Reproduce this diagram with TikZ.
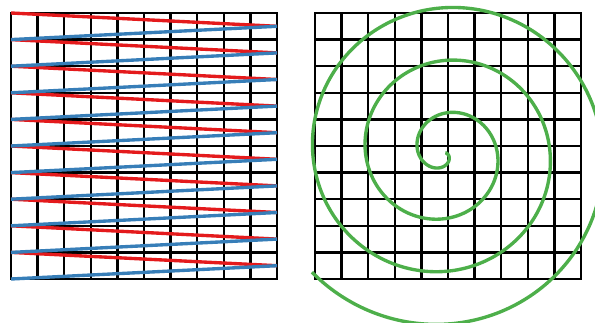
\documentclass[tikz,border=0pt]{standalone}
\definecolor{zzred}{HTML}{E41A1C}
\definecolor{zzblue}{HTML}{377EB8}
\definecolor{spgreen}{HTML}{4DAF4A}
\begin{document}
\begin{tikzpicture}[
    gridline/.style={line width=2.5pt, line cap=rect},
    zigzag/.style={line width=3.6pt},
    spiral/.style={line width=3.6pt, spgreen}]
  \useasboundingbox (-0.414,-1.617) rectangle (21.955,10.489);
  \clip (-0.414,-1.617) rectangle (21.955,10.489);
  \draw[gridline] (0,0) grid (10,10);
  \begin{scope}[xshift=11.43cm]
    \draw[gridline] (0,0) grid (10,10);
  \end{scope}
  \foreach \k in {0,...,9} {
    \draw[zigzag, zzred] (0,10-\k) -- (10,9.5-\k);
  }
  \foreach \k in {0,...,9} {
    \draw[zigzag, zzblue] (10,9.5-\k) -- (0,9-\k);
  }
  \draw[spiral] plot[domain=5:1218, samples=500, smooth]
    ({16.30+0.005515*\x*cos(-\x)}, {4.746+0.005515*\x*sin(-\x)});
\end{tikzpicture}
\end{document}
